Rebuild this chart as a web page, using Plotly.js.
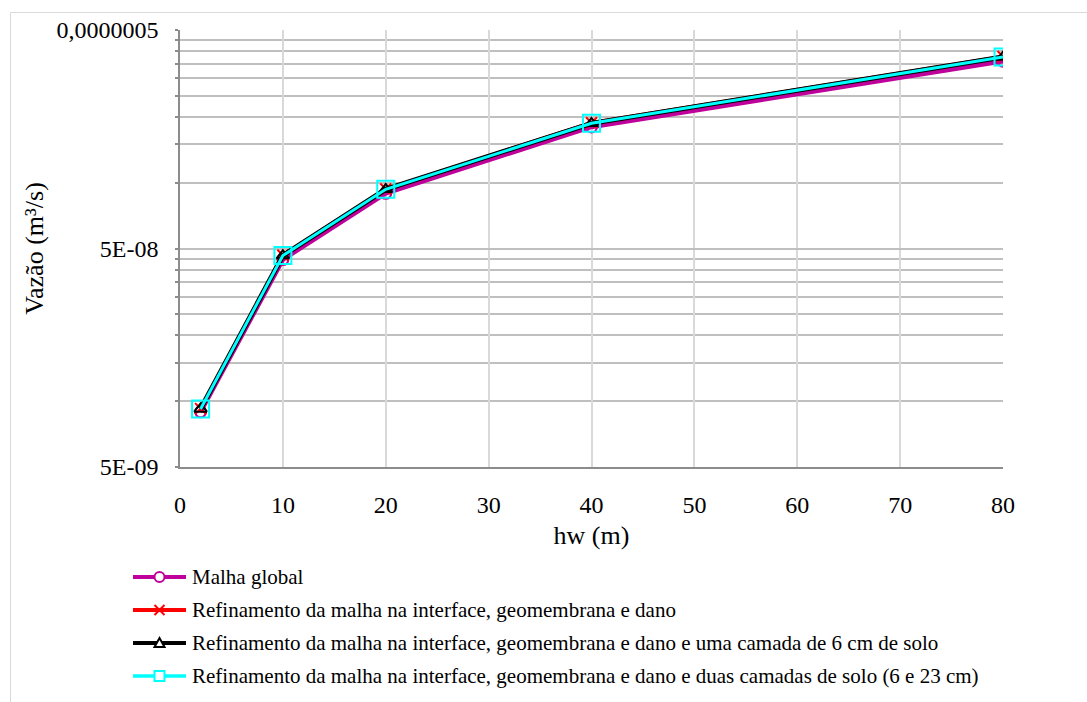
<!DOCTYPE html>
<html>
<head>
<meta charset="utf-8">
<script src="https://cdn.plot.ly/plotly-3.0.1.min.js"></script>
</head>
<body style="margin:0">
<div id="chart" style="position:absolute;left:0;top:0"></div>
<script>
// Data
var hw = [2, 10, 20, 40, 80];
var malhaGlobal = [8.94e-9, 4.45e-8, 8.94e-8, 1.80e-7, 3.60e-7];
var refInterface = [9.25e-9, 4.66e-8, 9.36e-8, 1.88e-7, 3.78e-7];
var refCamada6 = [9.22e-9, 4.64e-8, 9.33e-8, 1.87e-7, 3.76e-7];
var refDuasCamadas = [9.22e-9, 4.64e-8, 9.33e-8, 1.87e-7, 3.76e-7];

var seriesNames = [
  'Malha global',
  'Refinamento da malha na interface, geomembrana e dano',
  'Refinamento da malha na interface, geomembrana e dano e uma camada de 6 cm de solo',
  'Refinamento da malha na interface, geomembrana e dano e duas camadas de solo (6 e 23 cm)'
];
var yTickVals = [5e-9, 5e-8, 5e-7];
var yTickText = ['5E-09', '5E-08', '0,0000005'];
var yMinorVals = [1e-8, 1.5e-8, 2e-8, 2.5e-8, 3e-8, 3.5e-8, 4e-8, 4.5e-8,
                  1e-7, 1.5e-7, 2e-7, 2.5e-7, 3e-7, 3.5e-7, 4e-7, 4.5e-7];
var xTickVals = [0, 10, 20, 30, 40, 50, 60, 70, 80];

var F = 'Liberation Serif';
var colors = ['#C0009A', '#FF0000', '#000000', '#00FFFF'];

var traces = [
  {x: hw, y: malhaGlobal, name: seriesNames[0], mode: 'lines+markers',
   line: {color: colors[0], width: 4.5},
   marker: {symbol: 'circle-open', size: 11, color: colors[0], line: {width: 2, color: colors[0]}}},
  {x: hw, y: refInterface, name: seriesNames[1], mode: 'lines+markers',
   line: {color: colors[1], width: 3.5},
   marker: {symbol: 'x-thin-open', size: 11, color: colors[1], line: {width: 2, color: colors[1]}}},
  {x: hw, y: refCamada6, name: seriesNames[2], mode: 'lines+markers',
   line: {color: colors[2], width: 5},
   marker: {symbol: 'triangle-up-open', size: 11, color: colors[2], line: {width: 2, color: colors[2]}}},
  {x: hw, y: refDuasCamadas, name: seriesNames[3], mode: 'lines+markers',
   line: {color: colors[3], width: 3},
   marker: {symbol: 'square-open', size: 17, color: colors[3], line: {width: 2, color: colors[3]}}}
];

// plot area in pixels: left 180, right 1003, top 30, bottom 467
var PL = 180, PW = 823, PB = 467, PH = 437;
function px2x(p) { return (p - PL) / PW; }
function px2y(p) { return (PB - p) / PH; }

var shapes = [
  // outer chart frame (light grey, continues past the right/bottom edges)
  {type: 'rect', xref: 'paper', yref: 'paper', x0: px2x(10.5), x1: px2x(1200), y0: px2y(12.5), y1: px2y(800),
   line: {color: '#d9d9d9', width: 1}, layer: 'below'}
];
var annotations = [];
var legendRows = [577, 610, 643, 676];
var legendLineW = [4, 4, 4, 3.5];
for (var i = 0; i < seriesNames.length; i++) {
  var yy = px2y(legendRows[i]);
  var c = colors[i];
  shapes.push({type: 'line', xref: 'paper', yref: 'paper', x0: px2x(133), x1: px2x(186), y0: yy, y1: yy,
               line: {color: c, width: legendLineW[i]}});
  var mk = {xref: 'paper', yref: 'paper', xsizemode: 'pixel', ysizemode: 'pixel',
            xanchor: px2x(159.5), yanchor: yy, line: {color: c, width: 2}, fillcolor: '#ffffff'};
  if (i === 0) { mk.type = 'circle'; mk.x0 = -5; mk.x1 = 5; mk.y0 = -5; mk.y1 = 5; }
  if (i === 1) { mk.type = 'path'; mk.path = 'M-5,-5L5,5M-5,5L5,-5'; mk.fillcolor = 'rgba(0,0,0,0)'; }
  if (i === 2) { mk.type = 'path'; mk.path = 'M-5,-4L5,-4L0,5Z'; }
  if (i === 3) { mk.type = 'rect'; mk.x0 = -5; mk.x1 = 5; mk.y0 = -5; mk.y1 = 5; }
  shapes.push(mk);
  annotations.push({xref: 'paper', yref: 'paper', x: px2x(190), y: yy, xanchor: 'left', yanchor: 'middle',
                    text: seriesNames[i], showarrow: false,
                    font: {family: F, size: 21, color: '#000'}});
}

var layout = {
  width: 1087, height: 702,
  paper_bgcolor: '#ffffff', plot_bgcolor: '#ffffff',
  margin: {l: 180, r: 84, t: 30, b: 235},
  font: {family: F, color: '#000', size: 21},
  showlegend: false,
  shapes: shapes,
  annotations: annotations,
  xaxis: {
    range: [0, 80], tickmode: 'array', tickvals: xTickVals,
    showgrid: true, gridcolor: '#d9d9d9', gridwidth: 1.5,
    showline: true, linecolor: '#8c8c8c', linewidth: 1.5,
    zeroline: false, ticks: '', ticklabelstandoff: 15,
    tickfont: {family: F, size: 24, color: '#000'},
    title: {text: 'hw (m)', font: {family: F, size: 26, color: '#000'}, standoff: 9}
  },
  yaxis: {
    type: 'log', range: [Math.log10(5e-9), Math.log10(5e-7)],
    tickmode: 'array', tickvals: yTickVals, ticktext: yTickText,
    showgrid: true, gridcolor: '#bfbfbf', gridwidth: 1.5,
    showline: true, linecolor: '#8c8c8c', linewidth: 1.5,
    zeroline: false, ticks: 'outside', ticklen: 3, tickcolor: '#8c8c8c', tickwidth: 1.5,
    ticklabelstandoff: 12,
    minor: {tickmode: 'array', tickvals: yMinorVals, showgrid: true, gridcolor: '#bfbfbf', gridwidth: 1.5,
            ticks: 'outside', ticklen: 3, tickcolor: '#8c8c8c', tickwidth: 1.5},
    tickfont: {family: F, size: 24, color: '#000'},
    title: {text: 'Vazão (m³/s)', font: {family: F, size: 26, color: '#000'}, standoff: 5}
  }
};

Plotly.newPlot('chart', traces, layout, {displayModeBar: false});
</script>
</body>
</html>
